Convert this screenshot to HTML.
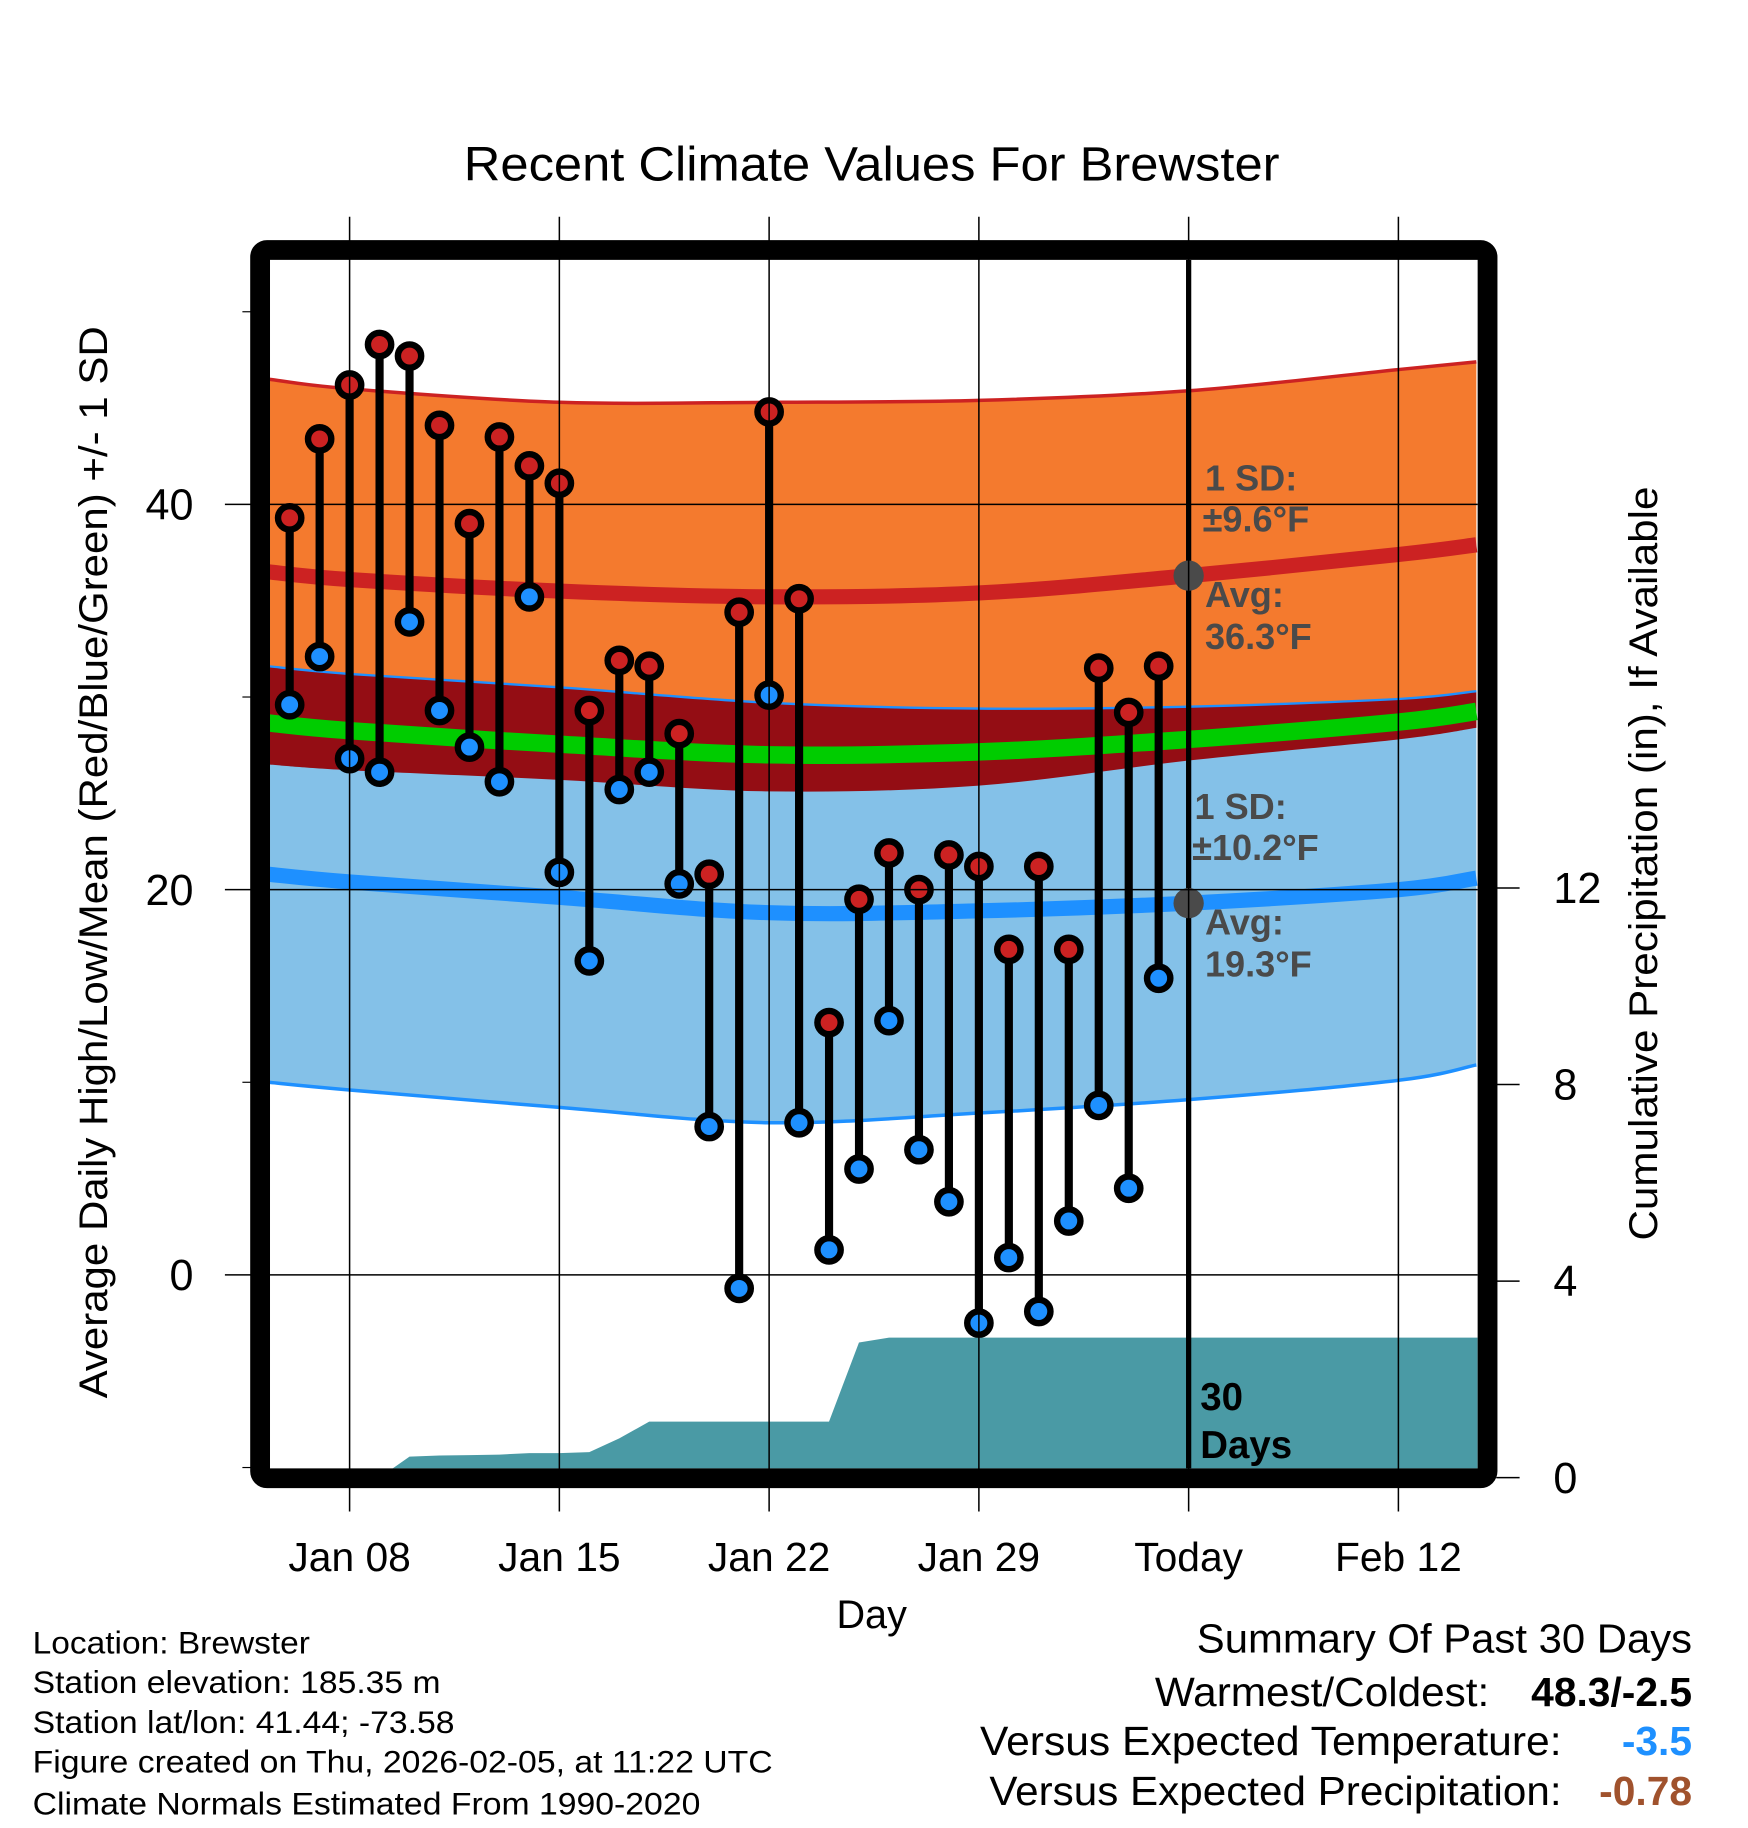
<!DOCTYPE html>
<html><head><meta charset="utf-8"><style>
html,body{margin:0;padding:0;background:#fff}
svg{display:block}
text{font-family:"Liberation Sans",sans-serif}
</style></head><body>
<svg id="chart" xmlns="http://www.w3.org/2000/svg" width="1748" height="1828" viewBox="0 0 1500 1568.6">
<text x="748" y="155" font-size="41" text-anchor="middle" textLength="700" lengthAdjust="spacingAndGlyphs">Recent Climate Values For Brewster</text>
<g id="plot"></g>
<text x="748" y="1397" font-size="34" text-anchor="middle">Day</text>
<text transform="translate(92,740) rotate(-90)" font-size="34" text-anchor="middle" textLength="920" lengthAdjust="spacingAndGlyphs">Average Daily High/Low/Mean (Red/Blue/Green) +/- 1 SD</text>
<text transform="translate(1422,741) rotate(-90)" font-size="34" text-anchor="middle" textLength="647" lengthAdjust="spacingAndGlyphs">Cumulative Precipitation (in), If Available</text>
<g font-size="27">
<text x="28" y="1419" textLength="238" lengthAdjust="spacingAndGlyphs">Location: Brewster</text>
<text x="28" y="1453" textLength="350" lengthAdjust="spacingAndGlyphs">Station elevation: 185.35 m</text>
<text x="28" y="1487" textLength="362" lengthAdjust="spacingAndGlyphs">Station lat/lon: 41.44; -73.58</text>
<text x="28" y="1521" textLength="635" lengthAdjust="spacingAndGlyphs">Figure created on Thu, 2026-02-05, at 11:22 UTC</text>
<text x="28" y="1557" textLength="573" lengthAdjust="spacingAndGlyphs">Climate Normals Estimated From 1990-2020</text>
</g>
<g font-size="35">
<text x="1027" y="1418" textLength="425" lengthAdjust="spacingAndGlyphs">Summary Of Past 30 Days</text>
<text x="991" y="1464" textLength="287" lengthAdjust="spacingAndGlyphs">Warmest/Coldest:</text>
<text x="1452" y="1464" text-anchor="end" font-weight="bold">48.3/-2.5</text>
<text x="841" y="1506" textLength="499" lengthAdjust="spacingAndGlyphs">Versus Expected Temperature:</text>
<text x="1452" y="1506" text-anchor="end" font-weight="bold" fill="#1e90ff">-3.5</text>
<text x="849" y="1549" textLength="491" lengthAdjust="spacingAndGlyphs">Versus Expected Precipitation:</text>
<text x="1452" y="1549" text-anchor="end" font-weight="bold" fill="#a0522d">-0.78</text>
</g>
</svg>
<script>
// ---- data ----
const obsDays = [-2,-1,0,1,2,3,4,5,6,7,8,9,10,11,12,13,14,15,16,17,18,19,20,21,22,23,24,25,26,27];
const highs = [39.3,43.4,46.2,48.3,47.7,44.1,39.0,43.5,42.0,41.1,29.3,31.9,31.6,28.1,20.8,34.4,44.8,35.1,13.1,19.5,21.9,20.0,21.8,21.2,16.9,21.2,16.9,31.5,29.2,31.6];
const lows = [29.6,32.1,26.8,26.1,33.9,29.3,27.4,25.6,35.2,20.9,16.3,25.2,26.1,20.3,7.7,-0.7,30.1,7.9,1.3,5.5,13.2,6.5,3.8,-2.5,0.9,-1.9,2.8,8.8,4.5,15.4];
const precip = [0,0,0,0,0.43,0.45,0.46,0.47,0.5,0.5,0.52,0.8,1.14,1.14,1.14,1.14,1.14,1.14,1.14,2.75,2.85,2.85,2.85,2.85,2.85,2.85,2.85,2.85,2.85,2.85];
const normDays = [-2.7,0,7,14,21,28,35,37.6];
const highMean = [36.5,36.1,35.5,35.2,35.4,36.3,37.4,37.9];
const highSD = [10.0,9.9,9.8,10.1,10.0,9.6,9.6,9.5];
const lowMean = [20.8,20.4,19.6,18.8,18.9,19.3,20.0,20.6];
const lowSD = [10.8,10.8,10.9,10.9,10.5,10.2,9.9,9.7];
const xTickDays = [0,7,14,21,28,35];
const xTickLabels = ["Jan 08","Jan 15","Jan 22","Jan 29","Today","Feb 12"];
const yTicks = [0,20,40];
const yMinor = [-10,10,30,50];
const y2Ticks = [0,4,8,12];
const todayDay = 28;

// ---- axes ----
const X0=300, PXD=180/7;
const xs = d => X0 + d*PXD;
const ys = t => 1094 - t*16.53;
const yp = p => 1268 - p*42.17;
const L=231.7, R=1268, T=223, B=1260;
const NS="http://www.w3.org/2000/svg";
const plot=document.getElementById('plot');
function mk(tag, attrs, parent){const e=document.createElementNS(NS,tag);for(const k in attrs)e.setAttribute(k,attrs[k]);(parent||plot).appendChild(e);return e;}

const defs=mk('defs',{});
const cp=mk('clipPath',{id:'clip'},defs);
mk('rect',{x:L,y:T,width:R-L,height:B-T},cp);
const g=mk('g',{'clip-path':'url(#clip)'});



function curve(fn){const pts=[];for(let i=0;i<normDays.length;i++)pts.push([xs(normDays[i]),ys(fn(i))]);return pts;}
function smooth(pts, move){
  let s=(move?'M':'L')+pts[0][0].toFixed(1)+','+pts[0][1].toFixed(1);
  for(let i=0;i<pts.length-1;i++){
    const p0=pts[Math.max(i-1,0)],p1=pts[i],p2=pts[i+1],p3=pts[Math.min(i+2,pts.length-1)];
    const c1=[p1[0]+(p2[0]-p0[0])/6,p1[1]+(p2[1]-p0[1])/6];
    const c2=[p2[0]-(p3[0]-p1[0])/6,p2[1]-(p3[1]-p1[1])/6];
    s+='C'+c1[0].toFixed(1)+','+c1[1].toFixed(1)+' '+c2[0].toFixed(1)+','+c2[1].toFixed(1)+' '+p2[0].toFixed(1)+','+p2[1].toFixed(1);
  }
  return s;
}
function line(pts){return smooth(pts,true);}
function band(a,b){return smooth(a,true)+smooth(b.slice().reverse(),false)+'Z';}
const hiTop=curve(i=>highMean[i]+highSD[i]);
const hiBot=curve(i=>highMean[i]-highSD[i]);
const loTop=curve(i=>lowMean[i]+lowSD[i]);
const loBot=curve(i=>lowMean[i]-lowSD[i]);
let e;
e=mk('path',{d:band(hiTop,hiBot),fill:'#f47a2e'},g);


e=mk('path',{d:band(loTop,loBot),fill:'#84c1e8'},g);


e=mk('path',{d:band(loTop,hiBot),fill:'#940d14'},g);


e=mk('path',{d:line(hiTop),fill:'none',stroke:'#cc2222','stroke-width':3},g);


e=mk('path',{d:line(loTop),fill:'none',stroke:'#1e90ff','stroke-width':2},g);


e=mk('path',{d:line(loBot),fill:'none',stroke:'#1e90ff','stroke-width':3},g);


e=mk('path',{d:line(curve(i=>highMean[i])),fill:'none',stroke:'#cc2222','stroke-width':13},g);


e=mk('path',{d:line(curve(i=>lowMean[i])),fill:'none',stroke:'#1e90ff','stroke-width':13},g);


e=mk('path',{d:line(curve(i=>(highMean[i]+lowMean[i])/2)),fill:'none',stroke:'#00cc00','stroke-width':15},g);



// gridlines
xTickDays.forEach(d=>{
  const l=mk('line',{x1:xs(d),x2:xs(d),y1:186,y2:1297,stroke:'#000','stroke-width':1.3});
  
  
});
yTicks.forEach(t=>{
  const l=mk('line',{x1:193,x2:R,y1:ys(t),y2:ys(t),stroke:'#000','stroke-width':1.3});
  
  
  const tx=mk('text',{x:166,y:ys(t)+13,'font-size':37,'text-anchor':'end'});
  tx.textContent=t;
  
  
});
yMinor.forEach(t=>{
  const l=mk('line',{x1:208,x2:220,y1:ys(t),y2:ys(t),stroke:'#000','stroke-width':1});
  
  
});
y2Ticks.forEach(p=>{
  const l=mk('line',{x1:1284,x2:1304,y1:yp(p),y2:yp(p),stroke:'#000','stroke-width':1.3});
  
  
  const tx=mk('text',{x:1333,y:yp(p)+13,'font-size':37});
  tx.textContent=p;
  
  
});
xTickDays.forEach((d,i)=>{
  const tx=mk('text',{x:xs(d),y:1348,'font-size':35,'text-anchor':'middle'});
  tx.textContent=xTickLabels[i];
  
  
});

// precipitation area
let pd='M'+L+','+yp(0)+'L'+xs(obsDays[0]-0.5)+','+yp(0);
obsDays.forEach((d,i)=>{pd+='L'+xs(d).toFixed(1)+','+yp(precip[i]).toFixed(1);});
pd+='L'+R+','+yp(precip[precip.length-1])+'L'+R+','+yp(0)+'Z';
e=mk('path',{d:pd,fill:'#4a9aa5'},g);



// today line
e=mk('line',{x1:xs(todayDay),x2:xs(todayDay),y1:T,y2:B,stroke:'#000','stroke-width':4.5},g);


const ti=normDays.indexOf(todayDay);
e=mk('circle',{cx:xs(todayDay),cy:ys(highMean[ti]),r:13,fill:'#4a4a4a'},g);


e=mk('circle',{cx:xs(todayDay),cy:ys(lowMean[ti]),r:13,fill:'#4a4a4a'},g);



// annotations
const ann=[["1 SD:",1034,421],["±9.6°F",1032,456],["Avg:",1034,521],["36.3°F",1034,557],["1 SD:",1025,703],["±10.2°F",1023,738],["Avg:",1034,802],["19.3°F",1034,838]];
ann.forEach(a=>{
  const tx=mk('text',{x:a[1],y:a[2],'font-size':31,'font-weight':'bold',fill:'#4a4a4a'},g);
  tx.textContent=a[0];
  
  
});
[["30",1030,1210],["Days",1030,1251]].forEach(a=>{
  const tx=mk('text',{x:a[1],y:a[2],'font-size':33,'font-weight':'bold',fill:'#000'},g);
  tx.textContent=a[0];
  
  
});

// stems
obsDays.forEach((d,i)=>{
  const x=xs(d);
  const s=mk('line',{x1:x,x2:x,y1:ys(highs[i]),y2:ys(lows[i]),stroke:'#000','stroke-width':7},g);
  
  
  const h=mk('circle',{cx:x,cy:ys(highs[i]),r:10,fill:'#cc2222',stroke:'#000','stroke-width':5.5},g);
  
  
  const lo=mk('circle',{cx:x,cy:ys(lows[i]),r:10,fill:'#1e90ff',stroke:'#000','stroke-width':5.5},g);
  
  
});

// frame
e=mk('rect',{x:L-8.5,y:T-8.5,width:R-L+17,height:B-T+17,rx:6,fill:'none',stroke:'#000','stroke-width':17});


</script>
</body></html>
